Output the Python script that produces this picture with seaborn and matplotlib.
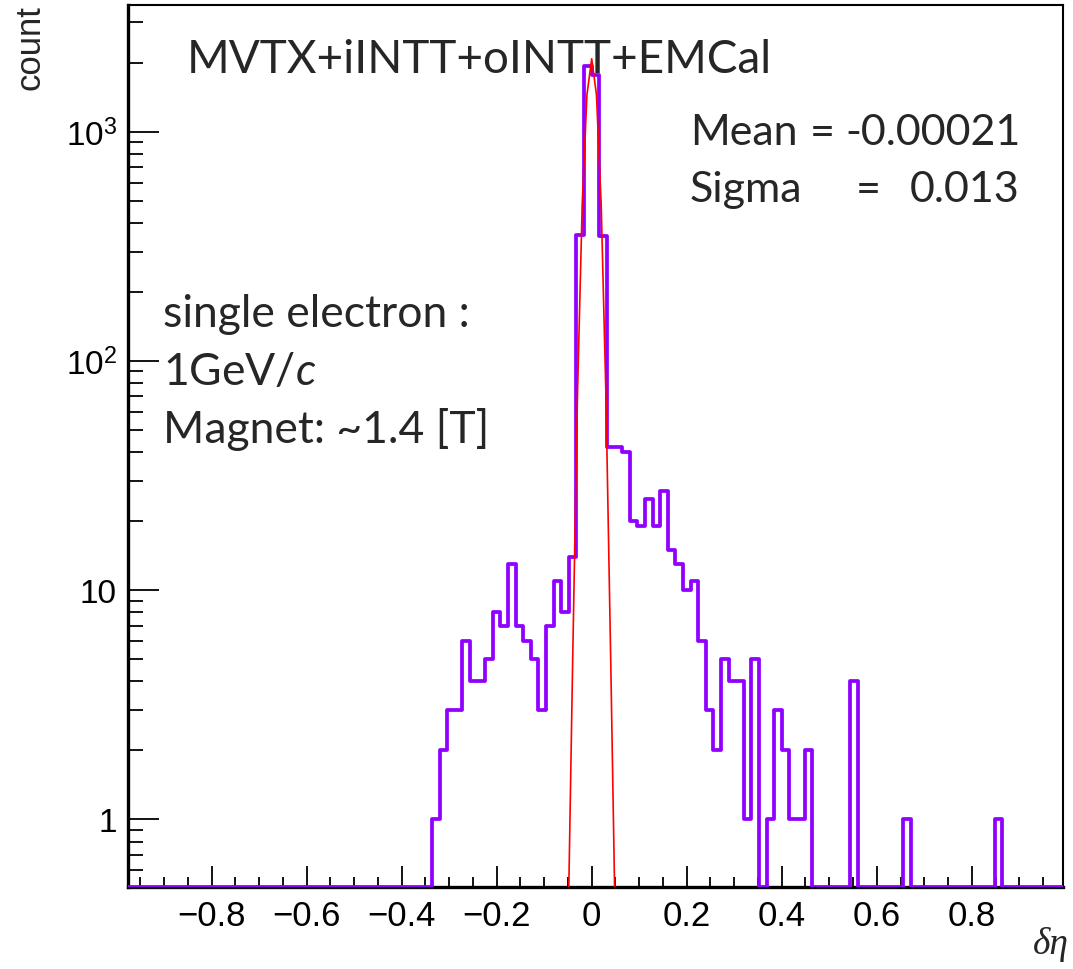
import numpy as np
import pandas as pd
import matplotlib
matplotlib.use('Agg')
import matplotlib.pyplot as plt
from matplotlib.ticker import FixedLocator, FuncFormatter, LogLocator, NullFormatter
import seaborn as sns

# binning of the delta-eta histogram
bin_width = 0.016
first_edge = -0.976
n_bins = 123

# counts, one per bin, starting at low edge -0.336
# (every bin outside this list is empty)
start_edge = -0.336
counts = [1, 2, 3, 3, 6, 4, 4, 5, 8, 7, 13, 7, 6, 5, 3, 7, 11, 8, 14,
          355, 1940, 1770, 350,
          42, 42, 40, 20, 19, 25, 19, 27, 15, 13, 10, 11, 6, 3, 2, 5, 4, 4,
          1, 5, 0, 1, 3, 2, 1, 1, 2,
          0, 0, 0, 0, 0, 4,
          0, 0, 0, 0, 0, 0, 1,
          0, 0, 0, 0, 0, 0, 0, 0, 0, 0, 0, 1]

# gaussian fit curve as drawn (red)
fit_x = [-0.05, -0.04, -0.03, -0.02, -0.01, 0.0, 0.01, 0.02, 0.03, 0.04, 0.05]
fit_y = [0.3, 5, 70, 480, 1450, 2080, 1450, 480, 70, 5, 0.3]

xticks = [-0.8, -0.6, -0.4, -0.2, 0.0, 0.2, 0.4, 0.6, 0.8]
y_range = (0.507, 3580)

W, H = 1073, 970
sns.set_style('ticks')
plt.rcParams['font.family'] = ['Liberation Sans', 'DejaVu Sans']
plt.rcParams['mathtext.fontset'] = 'custom'
plt.rcParams['mathtext.rm'] = 'Liberation Sans'
plt.rcParams['mathtext.it'] = 'Lato:italic'

fig = plt.figure(figsize=(W / 100, H / 100), dpi=100)
ax = fig.add_axes([128 / W, 1 - 888 / H, (1063 - 128) / W, (888 - 5.7) / H])

last_edge = first_edge + n_bins * bin_width
centers = first_edge + bin_width * (np.arange(n_bins) + 0.5)
full = np.zeros(n_bins)
off = int(round((start_edge - first_edge) / bin_width))
full[off:off + len(counts)] = counts
# empty bins are drawn on the floor of the log axis, as ROOT does
shown = np.where(full > 0, full, y_range[0])
df = pd.DataFrame({'deta': centers, 'n': shown})

sns.histplot(data=df, x='deta', weights='n', bins=n_bins,
             binrange=(first_edge, last_edge), element='step', fill=False,
             color='#9000ff', linewidth=2.7, zorder=3, ax=ax)
sns.lineplot(x=fit_x, y=fit_y, color='#ff0000', linewidth=1.2, zorder=4, ax=ax)

ax.set_yscale('log')
ax.set_xlim(first_edge, last_edge)
ax.set_ylim(*y_range)
ax.set_xlabel('')
ax.set_ylabel('')

ax.xaxis.set_major_locator(FixedLocator(xticks))
ax.xaxis.set_minor_locator(FixedLocator(np.arange(-0.95, 1.0, 0.05)))
ax.xaxis.set_major_formatter(FuncFormatter(
    lambda v, p: '0' if abs(v) < 1e-9 else f'{v:.1f}'.replace('-', '\u2212')))
ax.yaxis.set_major_locator(FixedLocator([1, 10, 100, 1000]))
ax.yaxis.set_minor_locator(LogLocator(base=10, subs=np.arange(2, 10)))
ax.yaxis.set_minor_formatter(NullFormatter())
ylab = {1: '1', 10: '10', 100: r'$10^{2}$', 1000: r'$10^{3}$'}
ax.yaxis.set_major_formatter(FuncFormatter(lambda v, p: ylab.get(int(round(v)), '')))

ax.tick_params(axis='both', which='both', direction='in', top=False, right=False,
               color='black', labelcolor='black', width=1.3)
ax.tick_params(axis='x', which='major', length=15, pad=9, labelsize=25)
ax.tick_params(axis='x', which='minor', length=7.5)
ax.tick_params(axis='y', which='major', length=22, pad=8, labelsize=24)
ax.tick_params(axis='y', which='minor', length=11)
for s in ['left', 'bottom']:
    ax.spines[s].set_linewidth(2.4)
    ax.spines[s].set_color('black')
for s in ['top', 'right']:
    ax.spines[s].set_linewidth(1.5)
    ax.spines[s].set_color('black')

fig.text(30 / W, 1 - 5 / H, 'count', rotation=90, ha='center', va='top', fontsize=25)
fig.text(1069 / W, 1 - 945 / H, 'δη', ha='right', va='center', fontsize=27,
         family='Liberation Serif', style='italic')

fig.text(187 / W, 1 - 73 / H, 'MVTX+iINTT+oINTT+EMCal', fontsize=33,
         family='Lato', va='baseline')

# fit results box, pieces placed like the original slide text
fs = 31
fig.text(690 / W, 1 - 145 / H, 'Mean', fontsize=fs, family='Lato', va='baseline')
fig.text(810 / W, 1 - 145 / H, '=', fontsize=fs, family='Lato', va='baseline')
fig.text(845 / W, 1 - 145 / H, '-0.00021', fontsize=fs, family='Lato', va='baseline')
fig.text(690 / W, 1 - 202 / H, 'Sigma', fontsize=fs, family='Lato', va='baseline')
fig.text(856 / W, 1 - 202 / H, '=', fontsize=fs, family='Lato', va='baseline')
fig.text(910 / W, 1 - 202 / H, '0.013', fontsize=fs, family='Lato', va='baseline')

fig.text(163 / W, 1 - 327 / H, 'single electron :', fontsize=32,
         family='Lato', va='baseline')
fig.text(163 / W, 1 - 385 / H, r'1GeV/$c$', fontsize=32,
         family='Lato', va='baseline')
fig.text(163 / W, 1 - 443 / H, 'Magnet: ~1.4 [T]', fontsize=32,
         family='Lato', va='baseline')

fig.savefig('out.png', dpi=100, facecolor='white')
